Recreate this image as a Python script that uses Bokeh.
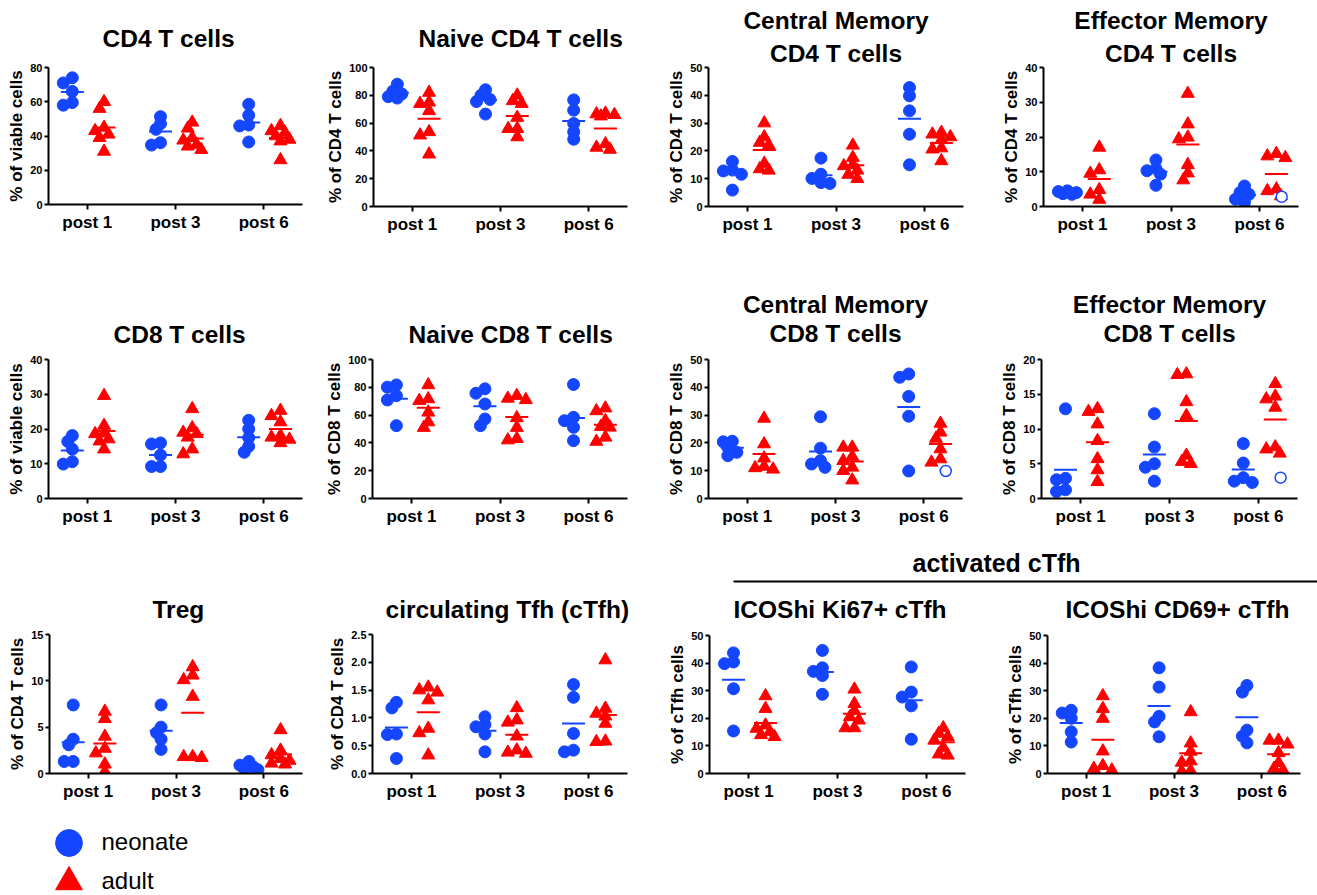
import numpy as np
from bokeh.plotting import figure
from bokeh.layouts import row, column
from bokeh.models import Range1d, FixedTicker, Legend, LegendItem, PrintfTickFormatter, Title
from bokeh.embed import file_html
from bokeh.resources import INLINE

BLUE = "#1446ff"
RED = "#ff0000"
FONT = "Liberation Sans"

timepoints = ["post 1", "post 3", "post 6"]
series_names = ["neonate", "adult"]
header_text = "activated cTfh"

# ---------------- data (values per time point) ----------------
cd4_title = ["CD4 T cells"]
cd4_ylabel = "% of viable cells"
cd4_ticks = [0, 20, 40, 60, 80]
cd4_neonate = [[74, 71, 66, 59.5, 58], [51.3, 47.2, 43.9, 36.1, 34.7], [58.5, 52.1, 46.4, 45.9, 36.5]]
cd4_adult = [[60, 56, 45, 43, 41, 39, 31], [48, 44.5, 39, 37.5, 35, 34, 32], [46, 43, 42, 40, 38, 37, 26]]

ncd4_title = ["Naive CD4 T cells"]
ncd4_ylabel = "% of CD4 T cells"
ncd4_ticks = [0, 20, 40, 60, 80, 100]
ncd4_neonate = [[88, 83, 81, 79, 78], [84, 80, 77, 75.5, 66.5], [76.7, 69.3, 59.7, 53.7, 48.4]]
ncd4_adult = [[82, 75, 74, 68.8, 53.7, 51.3, 37.6], [80, 76, 74, 64, 56, 56, 50], [67, 66.5, 66, 65, 45, 42.5, 41]]

cmcd4_title = ["Central Memory", "CD4 T cells"]
cmcd4_ylabel = "% of CD4 T cells"
cmcd4_ticks = [0, 10, 20, 30, 40, 50]
cmcd4_neonate = [[16.2, 13.1, 12.8, 11.6, 5.9], [17.4, 11.6, 10.1, 8.6, 8.3], [42.8, 39.8, 34.4, 26.0, 15.0]]
cmcd4_adult = [[30, 25, 23, 22, 15.5, 13.5, 13], [22, 17.6, 15, 14.6, 13, 11.5, 10], [26.6, 26, 25, 24, 21, 20.6, 16.4]]

emcd4_title = ["Effector Memory", "CD4 T cells"]
emcd4_ylabel = "% of CD4 T cells"
emcd4_ticks = [0, 10, 20, 30, 40]
emcd4_neonate = [[4.5, 4.3, 4.0, 3.7, 3.5], [13.4, 10.9, 10.3, 9.3, 6.1], [5.9, 4.0, 3.5, 2.1, 1.2]]
emcd4_adult = [[17, 10.5, 9.5, 4.8, 3.5, 2], [32.5, 23.7, 19.9, 19.4, 12, 9.6, 7.6], [15.2, 14.5, 14, 5, 4.5, 3]]
emcd4_open = [[], [], [2.8]]

cd8_title = ["CD8 T cells"]
cd8_ylabel = "% of viable cells"
cd8_ticks = [0, 10, 20, 30, 40]
cd8_neonate = [[18.1, 16.4, 14.2, 10.6, 9.9], [16.0, 15.7, 12.5, 9.2, 9.2], [22.5, 20, 17.5, 15, 13.3]]
cd8_adult = [[29.6, 21, 18.8, 18.6, 17.1, 16.5, 14.2], [25.8, 20.3, 19, 18.6, 17.6, 14.2, 12.8], [25.3, 23.8, 22, 18.1, 17.6, 17, 16]]

ncd8_title = ["Naive CD8 T cells"]
ncd8_ylabel = "% of CD8 T cells"
ncd8_ticks = [0, 20, 40, 60, 80, 100]
ncd8_neonate = [[81.7, 80.1, 74, 70.9, 52.4], [78.9, 75.7, 68, 57.2, 52.4], [82, 58.4, 56, 51.2, 41.6]]
ncd8_adult = [[81.7, 71.6, 70.4, 62, 55, 51], [74, 72, 71, 58, 51, 43, 42], [65, 63, 56, 51.7, 51.2, 44, 41]]

cmcd8_title = ["Central Memory", "CD8 T cells"]
cmcd8_ylabel = "% of CD8 T cells"
cmcd8_ticks = [0, 10, 20, 30, 40, 50]
cmcd8_neonate = [[20.6, 20.4, 18.4, 16.6, 15.4], [29.4, 18.1, 13.6, 12.4, 11.2], [44.8, 43.6, 36.7, 29.6, 9.9]]
cmcd8_adult = [[28.8, 19.6, 14.5, 11.5, 11, 10.5], [18.4, 18.4, 15.1, 13.6, 11.2, 10, 6.6], [27, 23.8, 21.6, 17.8, 14.2, 13]]
cmcd8_open = [[], [], [9.9]]

emcd8_title = ["Effector Memory", "CD8 T cells"]
emcd8_ylabel = "% of CD8 T cells"
emcd8_ticks = [0, 5, 10, 15, 20]
emcd8_neonate = [[12.9, 2.9, 2.7, 1.25, 1.0], [12.2, 7.4, 5.0, 4.5, 2.5], [7.9, 5.1, 3.0, 2.5, 2.3]]
emcd8_adult = [[12.9, 12.5, 10.7, 8.3, 5.7, 4.1, 2.4], [17.9, 17.8, 13.9, 11.9, 6.2, 5.3, 5.0], [16.5, 14.7, 14.3, 13.1, 7.4, 7.1, 6.5]]
emcd8_open = [[], [], [3.0]]

treg_title = ["Treg"]
treg_ylabel = "% of CD4 T cells"
treg_ticks = [0, 5, 10, 15]
treg_neonate = [[7.4, 3.7, 3.1, 1.3, 1.3], [7.4, 5.0, 4.4, 3.7, 2.6], [1.3, 0.9, 0.7, 0.5, 0.4]]
treg_adult = [[6.7, 5.9, 4.0, 2.7, 2.2, 1.0, 0.2], [11.5, 10.6, 10.1, 8.3, 1.8, 1.8, 1.7], [4.7, 2.5, 2.0, 1.6, 1.4, 1.1, 1.0]]

ctfh_title = ["circulating Tfh (cTfh)"]
ctfh_ylabel = "% of CD4 T cells"
ctfh_ticks = [0, 0.5, 1.0, 1.5, 2.0, 2.5]
ctfh_neonate = [[1.28, 1.18, 0.71, 0.70, 0.27], [1.02, 0.88, 0.84, 0.71, 0.39], [1.60, 1.37, 0.72, 0.42, 0.39]]
ctfh_adult = [[1.55, 1.5, 1.46, 1.32, 0.81, 0.73, 0.33], [1.18, 0.96, 0.92, 0.67, 0.42, 0.38, 0.36], [2.04, 1.17, 1.08, 1.03, 0.9, 0.58, 0.57]]

ki67_title = ["ICOShi Ki67+ cTfh"]
ki67_ylabel = "% of cTfh cells"
ki67_ticks = [0, 10, 20, 30, 40, 50]
ki67_neonate = [[43.7, 40.4, 39.8, 30.7, 15.4], [44.6, 38.3, 37.0, 35.5, 28.7], [38.6, 29.5, 27.7, 24.5, 12.4]]
ki67_adult = [[28.1, 23.5, 17.5, 16.3, 15.1, 14, 13.3], [30.5, 25.3, 22.7, 20.5, 19.3, 16.5, 16.5], [16.5, 14.5, 13.3, 12, 9.4, 7, 6.6]]

cd69_title = ["ICOShi CD69+ cTfh"]
cd69_ylabel = "% of cTfh cells"
cd69_ticks = [0, 10, 20, 30, 40, 50]
cd69_neonate = [[22.9, 21.9, 20, 15.1, 11.4], [38.3, 31.3, 20.7, 18.7, 13.3], [31.9, 29.5, 15.7, 13.5, 11.1]]
cd69_adult = [[28.1, 23.5, 19.9, 8.1, 2.8, 1.8, 1.2], [22.3, 11, 8, 4.5, 4, 1, 0.8], [12, 12, 10.6, 7.5, 3.9, 1.8, 1.2]]

# ---------------- helpers ----------------
X_LO, X_HI = -0.44, 2.44
NEO_SHIFT, ADU_SHIFT, OPEN_SHIFT = -0.17, 0.19, 0.25


def dodge(vals, ppy, ppx, min_d=7.0, step=4.5, kmax=2):
    cands = [0.0]
    for k in range(1, kmax + 1):
        cands += [-k * step, k * step]
    placed, offs = [], []
    for v in vals:
        yp = v * ppy
        best, bestd = cands[0], -1.0
        for c in cands:
            d = min([((c - a) ** 2 + (yp - b) ** 2) ** 0.5 for a, b in placed] or [1e9])
            if d >= min_d:
                best = c
                break
            if d > bestd:
                bestd, best = d, c
        placed.append((best, yp))
        offs.append(best / ppx)
    return offs


def add_titles(p, lines, align, offset, spacer, stds, size="24.5px"):
    if spacer is not None:
        p.add_layout(Title(text=" ", text_font_size="1px", standoff=spacer), "above")
    for line, std in zip(reversed(lines), stds):
        t = Title(text=line, align=align, offset=offset, standoff=std,
                  text_font=FONT, text_font_style="bold", text_font_size=size,
                  text_color="black")
        p.add_layout(t, "above")


def make_panel(title, ylabel, ticks, neo, adu, geo, opn=None, fmt=None):
    L, FW, R, T, FH, B, align, off, spacer, stds = geo
    ymax = ticks[-1]
    p = figure(title=None, frame_width=FW, frame_height=FH,
               min_border_left=L, min_border_right=R, min_border_top=T, min_border_bottom=B,
               x_range=Range1d(X_LO, X_HI), y_range=Range1d(0, ymax),
               output_backend="svg", toolbar_location=None)
    add_titles(p, title, align, off, spacer, stds)
    p.xgrid.visible = False
    p.ygrid.visible = False
    p.outline_line_color = None
    p.background_fill_color = "white"
    p.border_fill_color = "white"

    for ax in (p.xaxis[0], p.yaxis[0]):
        ax.axis_line_width = 2
        ax.axis_line_color = "black"
        ax.major_tick_line_width = 2
        ax.major_tick_line_color = "black"
        ax.major_tick_in = 0
        ax.minor_tick_line_color = None
        ax.major_label_text_font = FONT
        ax.major_label_text_font_style = "bold"
        ax.major_label_text_color = "black"
    p.xaxis.ticker = FixedTicker(ticks=[0, 1, 2])
    p.xaxis.major_label_overrides = {i: t for i, t in enumerate(timepoints)}
    p.xaxis.major_tick_out = 5
    p.xaxis.major_label_text_font_size = "17px"
    p.xaxis.major_label_standoff = 3
    p.yaxis.ticker = FixedTicker(ticks=ticks)
    p.yaxis.major_tick_out = 4
    p.yaxis.major_label_text_font_size = "11px"
    p.yaxis.major_label_standoff = 2
    p.yaxis.axis_label = ylabel
    p.yaxis.axis_label_text_font = FONT
    p.yaxis.axis_label_text_font_style = "bold"
    p.yaxis.axis_label_text_font_size = "17px"
    p.yaxis.axis_label_text_color = "black"
    p.yaxis.axis_label_standoff = 1
    if fmt:
        p.yaxis.formatter = PrintfTickFormatter(format=fmt)

    ppy = FH / ymax
    ppx = FW / (X_HI - X_LO)
    nx, ny, ax_, ay, ox, oy = [], [], [], [], [], []
    mnx, mny, max_, may = [], [], [], []
    for i in range(len(timepoints)):
        offs = dodge(neo[i], ppy, ppx)
        nx += [i + NEO_SHIFT + o for o in offs]
        ny += list(neo[i])
        offs = dodge(adu[i], ppy, ppx)
        ax_ += [i + ADU_SHIFT + o for o in offs]
        ay += list(adu[i])
        mnx.append(i + NEO_SHIFT)
        mny.append(float(np.mean(neo[i])))
        max_.append(i + ADU_SHIFT)
        may.append(float(np.mean(adu[i])))
        if opn is not None:
            ox += [i + OPEN_SHIFT] * len(opn[i])
            oy += list(opn[i])
    p.scatter(nx, ny, marker="circle", size=12, fill_color=BLUE, line_color=BLUE)
    p.scatter(ax_, ay, marker="triangle", size=13, fill_color=RED, line_color=RED)
    if opn is not None:
        p.scatter(ox, oy, marker="circle", size=11, fill_color="white", line_color=BLUE, line_width=1.5)
    p.scatter(mnx, mny, marker="dash", size=23, line_color=BLUE, line_width=2)
    p.scatter(max_, may, marker="dash", size=23, line_color=RED, line_width=2)
    return p


# geometry: L, FW, R, T, FH, B, title align, title offset, spacer standoff, title standoffs (bottom->top)
p1 = make_panel(cd4_title, cd4_ylabel, cd4_ticks, cd4_neonate, cd4_adult,
                (48, 254, 18, 67, 137, 72, "left", 54, 13, [0]))
p2 = make_panel(ncd4_title, ncd4_ylabel, ncd4_ticks, ncd4_neonate, ncd4_adult,
                (53, 254, 23, 67, 139, 70, "left", 45, 13, [0]))
p3 = make_panel(cmcd4_title, cmcd4_ylabel, cmcd4_ticks, cmcd4_neonate, cmcd4_adult,
                (58, 255, 7, 67, 139, 70, "center", 0, None, [2, 5]))
p4 = make_panel(emcd4_title, emcd4_ylabel, emcd4_ticks, emcd4_neonate, emcd4_adult,
                (73, 255, 19, 67, 139, 70, "center", 0, None, [2, 5]), opn=emcd4_open)

p5 = make_panel(cd8_title, cd8_ylabel, cd8_ticks, cd8_neonate, cd8_adult,
                (48, 254, 18, 83, 139, 42, "left", 65, 9, [0]))
p6 = make_panel(ncd8_title, ncd8_ylabel, ncd8_ticks, ncd8_neonate, ncd8_adult,
                (52, 255, 23, 83, 139, 42, "left", 36, 9, [0]))
p7 = make_panel(cmcd8_title, cmcd8_ylabel, cmcd8_ticks, cmcd8_neonate, cmcd8_adult,
                (58, 254, 8, 83, 139, 42, "center", 0, 10, [0, 0]), opn=cmcd8_open)
p8 = make_panel(emcd8_title, emcd8_ylabel, emcd8_ticks, emcd8_neonate, emcd8_adult,
                (71, 256, 20, 83, 139, 42, "center", 0, 10, [0, 0]), opn=emcd8_open)

p9 = make_panel(treg_title, treg_ylabel, treg_ticks, treg_neonate, treg_adult,
                (49, 253, 18, 94, 139, 29, "left", 103, 9, [0]))
p10 = make_panel(ctfh_title, ctfh_ylabel, ctfh_ticks, ctfh_neonate, ctfh_adult,
                 (52, 255, 23, 94, 139, 122, "left", 13, 9, [0]), fmt="%.1f")
p11 = make_panel(ki67_title, ki67_ylabel, ki67_ticks, ki67_neonate, ki67_adult,
                 (59, 256, 5, 50, 138, 122, "left", 24, 10, [0]))
p12 = make_panel(cd69_title, cd69_ylabel, cd69_ticks, cd69_neonate, cd69_adult,
                 (77, 253, 17, 50, 138, 122, "left", 18, 10, [0]))

# ---- series legend (own small figure under the Treg panel) ----
leg = figure(title=None, width=320, height=93, min_border=0,
             min_border_left=0, min_border_right=0, min_border_top=0, min_border_bottom=0,
             x_range=Range1d(0, 1), y_range=Range1d(0, 1),
             x_axis_location=None, y_axis_location=None,
             output_backend="svg", toolbar_location=None)
leg.outline_line_color = None
leg.xgrid.visible = False
leg.ygrid.visible = False
k_neo = leg.scatter(x=[np.nan], y=[np.nan], marker="circle", fill_color=BLUE, line_color=BLUE)
k_adu = leg.scatter(x=[np.nan], y=[np.nan], marker="triangle", fill_color=RED, line_color=RED)
for label, rend, vy in ((series_names[0], k_neo, 20.5), (series_names[1], k_adu, -18.5)):
    lg = Legend(items=[LegendItem(label=label, renderers=[rend])],
                location=(-14.5, vy), glyph_width=67, glyph_height=67,
                padding=0, margin=0, label_standoff=0,
                label_text_font=FONT, label_text_font_size="24px", label_text_color="black",
                label_text_baseline="middle",
                border_line_color=None, background_fill_alpha=0)
    leg.add_layout(lg)

# ---- header bar over the activated cTfh panels (the 2px frame is the black rule) ----
header = figure(title=None, frame_width=584, frame_height=2,
                min_border_left=83, min_border_right=0, min_border_top=40, min_border_bottom=3,
                x_range=Range1d(0, 1), y_range=Range1d(0, 1),
                x_axis_location=None, y_axis_location=None,
                output_backend="svg", toolbar_location=None)
header.background_fill_color = "black"
header.border_fill_color = "white"
header.outline_line_color = None
header.xgrid.visible = False
header.ygrid.visible = False
header.add_layout(Title(text=header_text, align="left", offset=179, standoff=8,
                        text_font=FONT, text_font_style="bold", text_font_size="25px",
                        text_color="black"), "above")

layout = column(
    row(p1, p2, p3, p4),
    row(p5, p6, p7, p8),
    row(column(p9, leg), p10, column(header, row(p11, p12))),
)

open("out.html", "w").write(file_html(layout, INLINE))
